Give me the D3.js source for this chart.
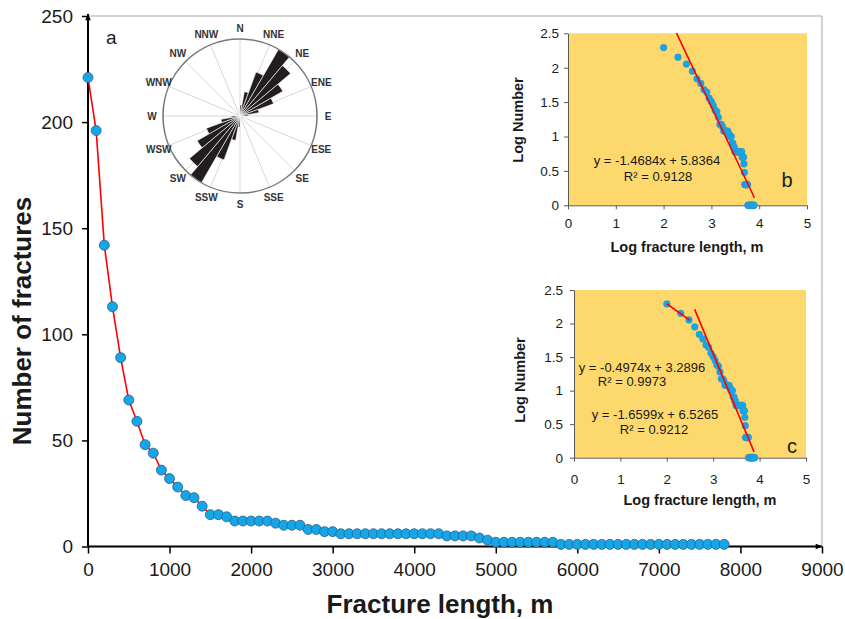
<!DOCTYPE html>
<html>
<head>
<meta charset="utf-8">
<script src="https://cdn.jsdelivr.net/npm/d3@7"></script>
<style>
  body { margin: 0; background: #fff; }
  svg { display: block; font-family: Arial, "Liberation Sans", sans-serif; }
</style>
</head>
<body>
<svg id="chart" width="845" height="619"></svg>
<script>
// fracture length (m) and cumulative number of fractures longer than it
const lengths = [0,100,200,300,400,500,600,700,800,900,1000,1100,1200,1300,1400,1500,1600,1700,1800,1900,
  2000,2100,2200,2300,2400,2500,2600,2700,2800,2900,3000,3100,3200,3300,3400,3500,3600,3700,3800,3900,
  4000,4100,4200,4300,4400,4500,4600,4700,4800,4900,5000,5100,5200,5300,5400,5500,5600,5700,5800,5900,
  6000,6100,6200,6300,6400,6500,6600,6700,6800,6900,7000,7100,7200,7300,7400,7500,7600,7700,7800];
const counts = [221,196,142,113,89,69,59,48,44,36,32,28,24,23,19,15,15,14,12,12,
  12,12,12,11,10,10,10,8,8,7,7,6,6,6,6,6,6,6,6,6,
  6,6,6,6,5,5,5,5,4,3,2,2,2,2,2,2,2,2,1,1,
  1,1,1,1,1,1,1,1,1,1,1,1,1,1,1,1,1,1,1];
const xTicks = [0,1000,2000,3000,4000,5000,6000,7000,8000,9000];
const yTicks = [0,50,100,150,200,250];

// rose diagram: 10 degree bins (bidirectional strikes)
const roseStart = [0,10,20,30,40,50,60,70,80];
const roseCounts = [4,9,17,28,24,18,13,7,3];
const compass = ["N","NNE","NE","ENE","E","ESE","SE","SSE","S","SSW","SW","WSW","W","WNW","NW","NNW"];

// log-log insets
const logTicksX = [0,1,2,3,4,5];
const logTicksY = [0,0.5,1,1.5,2,2.5];
const fitB = [-1.4684, 5.8364, 0.9128];
const fitBRange = [2.27, 3.9];
const fitC1 = [-0.4974, 3.2896, 0.9973];
const fitC1Range = [2.0, 2.5];
const fitC2 = [-1.6599, 6.5265, 0.9212];
const fitC2Range = [2.6, 3.88];

const blue = "#14a6e8";
const FONT = 'Arial, "Liberation Sans", sans-serif';
const svg = d3.select("#chart");

const defs = svg.append("defs");
defs.append("marker")
  .attr("id", "arrow").attr("viewBox", "0 0 10 10")
  .attr("refX", 9).attr("refY", 5)
  .attr("markerWidth", 8).attr("markerHeight", 7)
  .attr("markerUnits", "userSpaceOnUse").attr("orient", "auto")
  .append("path").attr("d", "M0,1L10,5L0,9Z").attr("fill", "#000");

// ---------- main chart ----------
const x = d3.scaleLinear().domain([0, 9000]).range([88, 822]);
const y = d3.scaleLinear().domain([0, 250]).range([546.5, 16]);

// light frame on top and right
svg.append("path")
  .attr("d", `M${x(0)},${y(250)}H${x(9000)}V${y(0)}`)
  .attr("fill", "none").attr("stroke", "#a6a6a6").attr("stroke-width", 1);

const xAxis = svg.append("g")
  .attr("transform", `translate(0,${y(0)})`)
  .call(d3.axisBottom(x).tickValues(xTicks).tickFormat(d3.format("d"))
    .tickSize(7).tickPadding(9).tickSizeOuter(0));
xAxis.select(".domain").remove();
xAxis.attr("font-size", 19).attr("font-family", FONT);
xAxis.selectAll("text").attr("fill", "#1a1a1a");
xAxis.selectAll("line").attr("stroke", "#000").attr("stroke-width", 1.5);

const yAxis = svg.append("g")
  .attr("transform", `translate(${x(0)},0)`)
  .call(d3.axisLeft(y).tickValues(yTicks).tickFormat(d3.format("d"))
    .tickSize(6).tickPadding(9).tickSizeOuter(0));
yAxis.select(".domain").remove();
yAxis.attr("font-size", 19).attr("font-family", FONT);
yAxis.selectAll("text").attr("fill", "#1a1a1a");
yAxis.selectAll("line").attr("stroke", "#000").attr("stroke-width", 1.5);

svg.append("line")
  .attr("x1", x(0)).attr("x2", x(9000)).attr("y1", y(0)).attr("y2", y(0))
  .attr("stroke", "#000").attr("stroke-width", 2).attr("marker-end", "url(#arrow)");
svg.append("line")
  .attr("x1", x(0)).attr("x2", x(0)).attr("y1", y(0)).attr("y2", y(250) - 2)
  .attr("stroke", "#000").attr("stroke-width", 2).attr("marker-end", "url(#arrow)");

const mainData = lengths.map((L, i) => ({L: L, n: counts[i]}));

svg.append("path")
  .datum(mainData)
  .attr("fill", "none").attr("stroke", "#ff0000").attr("stroke-width", 1.6)
  .attr("d", d3.line().x(d => x(d.L)).y(d => y(d.n)));

svg.append("g").selectAll("circle")
  .data(mainData).enter().append("circle")
  .attr("cx", d => x(d.L)).attr("cy", d => y(d.n)).attr("r", 5)
  .attr("fill", blue).attr("stroke", "#2d5f86").attr("stroke-width", 0.8);

svg.append("text").attr("x", 106).attr("y", 44).attr("font-size", 19).attr("fill", "#1a1a1a").text("a");

svg.append("text")
  .attr("x", 440).attr("y", 613).attr("text-anchor", "middle")
  .attr("font-size", 26).attr("font-weight", "bold").attr("fill", "#1a1a1a")
  .text("Fracture length, m");
svg.append("text")
  .attr("transform", "translate(31,321) rotate(-90)").attr("text-anchor", "middle")
  .attr("font-size", 26).attr("font-weight", "bold").attr("fill", "#1a1a1a")
  .text("Number of fractures");

// ---------- rose diagram ----------
const rose = svg.append("g").attr("transform", "translate(240,116)");
const R = 77;
const rScale = d3.scaleLinear().domain([0, d3.max(roseCounts)]).range([0, R]);
const toRad = d => d * Math.PI / 180;

compass.forEach((c, i) => {
  const a = toRad(i * 22.5);
  rose.append("line")
    .attr("x1", 0).attr("y1", 0)
    .attr("x2", R * Math.sin(a)).attr("y2", -R * Math.cos(a))
    .attr("stroke", "#d9d9d9").attr("stroke-width", 1);
});

const arc = d3.arc().innerRadius(0);
[0, 180].forEach(off => {
  rose.append("g").selectAll("path")
    .data(roseStart.map((s, i) => ({s: s + off, v: roseCounts[i]})))
    .enter().append("path")
    .attr("d", d => arc({outerRadius: rScale(d.v), startAngle: toRad(d.s), endAngle: toRad(d.s + 10)}))
    .attr("fill", "#221e1f").attr("stroke", "#fff").attr("stroke-width", 0.6);
});

rose.append("circle").attr("r", R).attr("fill", "none").attr("stroke", "#7a7a7a").attr("stroke-width", 1.6);

compass.forEach((c, i) => {
  const a = toRad(i * 22.5);
  const lr = R + 11;
  rose.append("text")
    .attr("x", lr * Math.sin(a)).attr("y", -lr * Math.cos(a) + 3.5)
    .attr("text-anchor", "middle").attr("font-size", 10).attr("font-weight", "bold")
    .attr("fill", "#333").text(c);
});

// ---------- log-log insets ----------
const logData = mainData.filter(d => d.L > 0).map(d => ({lx: Math.log10(d.L), ly: Math.log10(d.n)}));

function inset(box, tickPadX, tickPadY, titleX, titleY, fits, eqs, letter) {
  const ix = d3.scaleLinear().domain([0, 5]).range([box[0], box[1]]);
  const iy = d3.scaleLinear().domain([0, 2.5]).range([box[3], box[2]]);
  const g = svg.append("g");

  g.append("rect")
    .attr("x", ix(0)).attr("y", iy(2.5))
    .attr("width", ix(5) - ix(0)).attr("height", iy(0) - iy(2.5))
    .attr("fill", "#fdd86c");

  const ax = g.append("g").attr("transform", `translate(0,${iy(0)})`)
    .call(d3.axisBottom(ix).tickValues(logTicksX).tickFormat(d3.format(""))
      .tickSize(4).tickPadding(tickPadX).tickSizeOuter(0));
  const ay = g.append("g").attr("transform", `translate(${ix(0)},0)`)
    .call(d3.axisLeft(iy).tickValues(logTicksY).tickFormat(d3.format(""))
      .tickSize(4).tickPadding(tickPadY).tickSizeOuter(0));
  [ax, ay].forEach(a => {
    a.attr("font-size", 13.5).attr("font-family", FONT);
    a.selectAll("text").attr("fill", "#1a1a1a");
    a.selectAll("line, .domain").attr("stroke", "#595959");
  });

  g.append("g").selectAll("circle")
    .data(logData).enter().append("circle")
    .attr("cx", d => ix(d.lx)).attr("cy", d => iy(d.ly)).attr("r", 3.4)
    .attr("fill", blue).attr("stroke", "#3b8fc4").attr("stroke-width", 0.4);

  fits.forEach(f => {
    g.append("line")
      .attr("x1", ix(f.r[0])).attr("y1", iy(f.c[0] * f.r[0] + f.c[1]))
      .attr("x2", ix(f.r[1])).attr("y2", iy(f.c[0] * f.r[1] + f.c[1]))
      .attr("stroke", "#ff0000").attr("stroke-width", 1.6);
  });

  eqs.forEach(e => {
    g.append("text").attr("x", e.x).attr("y", e.y).attr("text-anchor", "middle")
      .attr("font-size", 13).attr("fill", "#1a1a1a").text(e.t);
  });

  g.append("text").attr("x", titleX[0]).attr("y", titleX[1]).attr("text-anchor", "middle")
    .attr("font-size", 14.5).attr("font-weight", "bold").attr("fill", "#1a1a1a")
    .text("Log fracture length, m");
  g.append("text").attr("transform", `translate(${titleY[0]},${titleY[1]}) rotate(-90)`)
    .attr("text-anchor", "middle")
    .attr("font-size", 14.5).attr("font-weight", "bold").attr("fill", "#1a1a1a")
    .text("Log Number");
  g.append("text").attr("x", letter[0]).attr("y", letter[1]).attr("text-anchor", "middle")
    .attr("font-size", 20).attr("fill", "#1a1a1a").text(letter[2]);
}

const eqText = f => `y = ${f[0]}x + ${f[1]}`;

inset([568, 807, 33.3, 205.3], 9, 5, [687, 252], [523, 120],
  [{c: fitB, r: fitBRange}],
  [{x: 657, y: 165, t: eqText(fitB)}, {x: 658, y: 181, t: "R² = " + fitB[2]}],
  [787, 187, "b"]);

inset([574, 806, 290, 457.7], 13, 7, [700, 505], [525, 380],
  [{c: fitC1, r: fitC1Range}, {c: fitC2, r: fitC2Range}],
  [{x: 642, y: 372, t: eqText(fitC1)}, {x: 632, y: 386, t: "R² = " + fitC1[2]},
   {x: 655, y: 419, t: eqText(fitC2)}, {x: 654, y: 434, t: "R² = " + fitC2[2]}],
  [792, 453, "c"]);
</script>
</body>
</html>
